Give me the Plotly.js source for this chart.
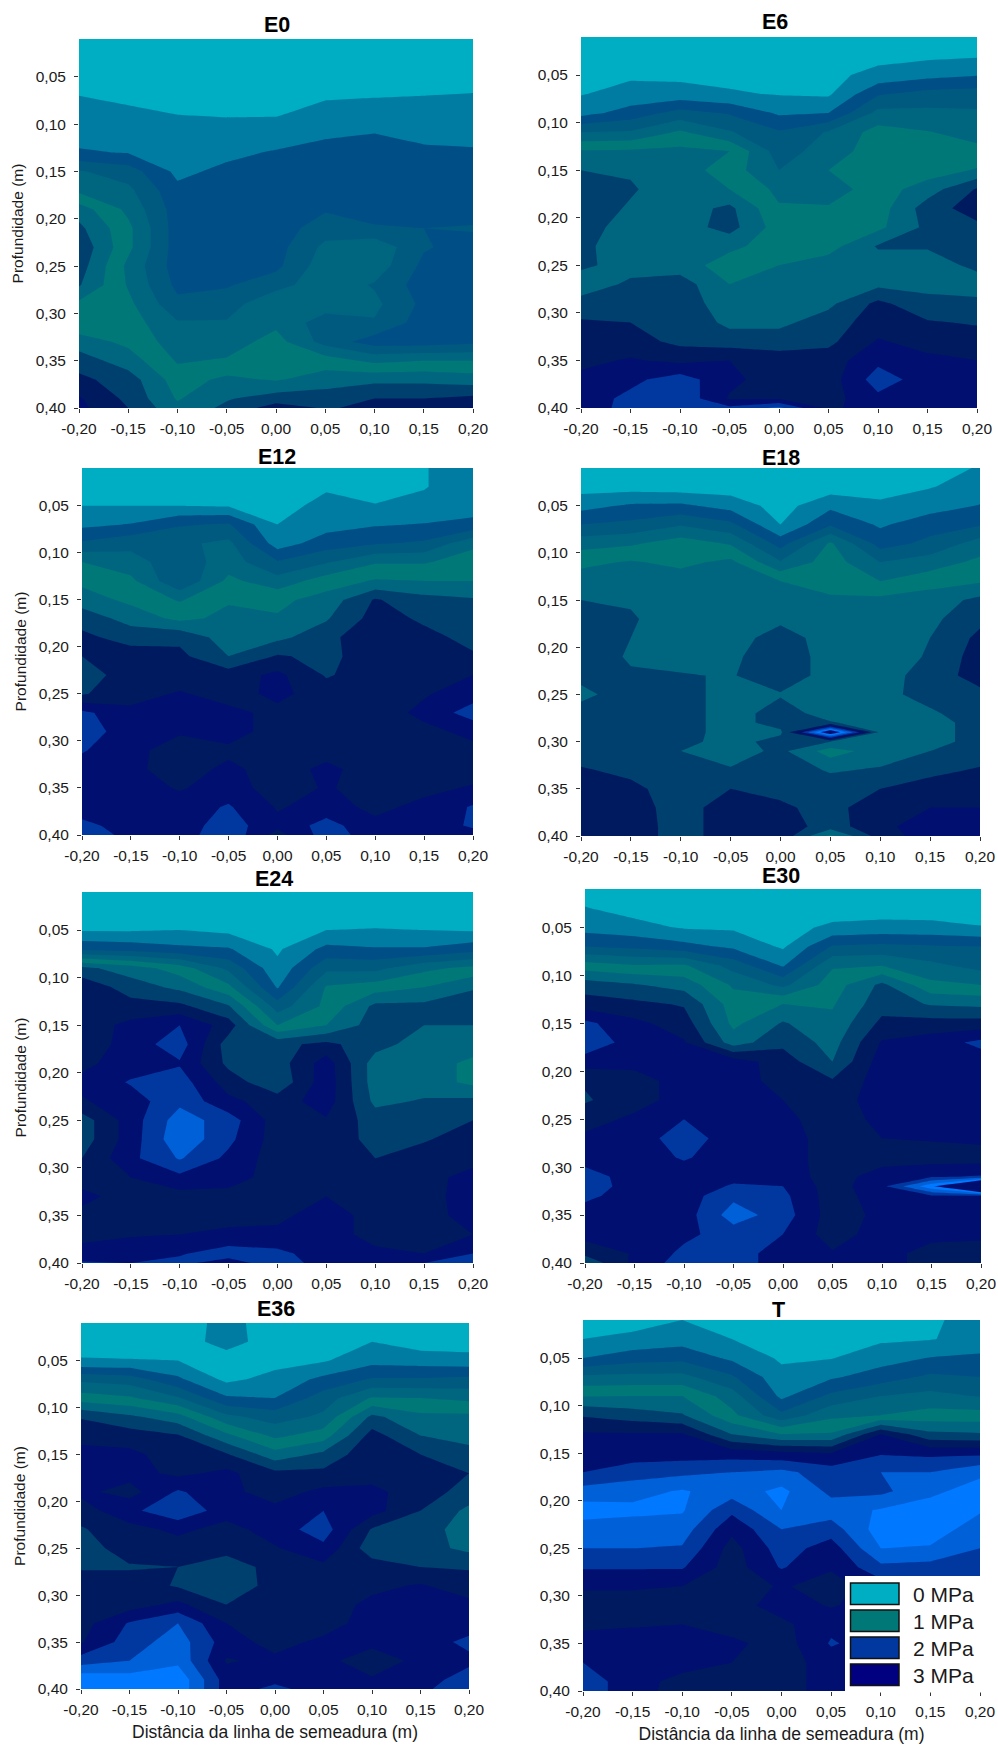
<!DOCTYPE html>
<html><head><meta charset="utf-8">
<script src="https://cdn.plot.ly/plotly-3.0.1.min.js"></script>
<style>html,body{margin:0;padding:0;background:#fff}#c{width:998px;height:1746px}</style>
</head><body><div id="c"></div>
<script>
const distances=[-0.20,-0.15,-0.10,-0.05,0,0.05,0.10,0.15,0.20];
const depths=[0.01,0.03,0.05,0.07,0.09,0.11,0.13,0.15,0.17,0.19,0.21,0.23,0.25,0.27,0.29,0.31,0.33,0.35,0.37,0.39,0.40];
const depthsE18=[0.01,0.03,0.05,0.07,0.09,0.11,0.13,0.15,0.17,0.19,0.21,0.23,0.25,0.27,0.28,0.29,0.30,0.31,0.33,0.35,0.37,0.39,0.40];
const depthsE30=[0.01,0.03,0.05,0.07,0.09,0.11,0.13,0.15,0.17,0.19,0.21,0.23,0.25,0.27,0.29,0.31,0.32,0.33,0.35,0.37,0.39,0.40];
const xTickVals=[-0.20,-0.15,-0.10,-0.05,0,0.05,0.10,0.15,0.20];
const xTickText=['-0,20','-0,15','-0,10','-0,05','0,00','0,05','0,10','0,15','0,20'];
const yTickVals=[0.05,0.10,0.15,0.20,0.25,0.30,0.35,0.40];
const yTickText=['0,05','0,10','0,15','0,20','0,25','0,30','0,35','0,40'];
const bandColors=['#00AEC3','#007CA2','#004E86','#005A80','#006680','#007878','#00667F','#00406F','#001A60','#000F70','#0038A0','#0060D8','#0078FF','#000F70','#000F70','#000F70','#000F70','#000F70','#000F70','#000F70'];
const legendLabels=['0 MPa','1 MPa','2 MPa','3 MPa'];
const legendColors=['#00AEC3','#007878','#0038A0','#000080'];
const panelNames=['E0','E6','E12','E18','E24','E30','E36','T'];

const e0=[
[.02,.02,.02,.02,.02,.02,.02,.02,.02],
[.06,.05,.05,.05,.05,.06,.06,.06,.07],
[.13,.11,.1,.1,.1,.12,.13,.13,.14],
[.2,.17,.15,.15,.15,.18,.19,.2,.21],
[.26,.23,.2,.19,.19,.26,.28,.29,.3],
[.33,.3,.27,.26,.28,.37,.4,.36,.35],
[.42,.39,.31,.35,.42,.47,.47,.43,.42],
[.82,.7,.35,.45,.5,.5,.5,.5,.5],
[.95,.85,.45,.5,.5,.5,.5,.5,.5],
[1.3,.95,.5,.5,.5,.58,.52,.5,.5],
[1.45,1.05,.5,.5,.5,.7,.62,.6,.62],
[1.55,1.05,.5,.5,.52,.85,.95,.62,.52],
[1.5,.95,.5,.52,.55,.92,.92,.55,.45],
[1.42,.98,.55,.58,.72,.93,.78,.5,.6],
[1.15,1.05,.65,.7,.98,.9,.85,.55,.55],
[1.05,1.1,.82,.82,.95,.7,.78,.5,.55],
[1.3,1.15,.9,.9,1.08,.72,.5,.5,.55],
[1.5,1.3,.98,1.02,1.15,1.1,.95,1.0,1.0],
[1.65,1.5,1.1,1.25,1.18,1.3,1.35,1.35,1.3],
[1.82,1.55,1.18,1.38,1.5,1.5,1.6,1.6,1.65],
[1.85,1.6,1.25,1.45,1.7,1.58,1.65,1.65,1.82]];

const e6=[
[.05,.05,.05,.05,.05,.05,.05,.06,.1],
[.1,.1,.1,.1,.1,.1,.14,.16,.18],
[.15,.17,.16,.15,.15,.15,.26,.34,.39],
[.19,.27,.27,.22,.19,.17,.58,.67,.69],
[.33,.48,.68,.58,.37,.4,.86,.85,.83],
[.8,.82,1.03,.82,.62,.82,1.08,1.01,.93],
[1.22,1.23,1.25,1.2,.7,.9,1.1,1.1,1.05],
[1.4,1.38,1.3,1.1,.8,1.0,1.1,1.1,1.22],
[1.5,1.42,1.3,1.2,.95,.9,1.1,1.3,1.62],
[1.5,1.38,1.3,1.45,1.02,1.02,1.1,1.5,1.7],
[1.5,1.3,1.3,1.48,1.1,1.1,1.15,1.45,1.55],
[1.45,1.28,1.3,1.25,1.1,1.12,1.42,1.42,1.42],
[1.45,1.3,1.3,1.1,1.2,1.3,1.3,1.3,1.45],
[1.25,1.45,1.5,1.2,1.3,1.3,1.35,1.35,1.3],
[1.5,1.5,1.5,1.3,1.3,1.35,1.65,1.45,1.45],
[1.62,1.6,1.55,1.35,1.35,1.5,1.7,1.62,1.58],
[1.7,1.68,1.55,1.5,1.5,1.55,1.82,1.72,1.7],
[1.75,1.82,1.75,1.8,1.7,1.7,1.95,1.85,1.8],
[1.85,1.95,2.1,1.85,1.7,1.7,2.1,1.9,1.9],
[1.9,2.05,2.15,1.78,1.78,1.72,1.95,1.9,1.9],
[1.92,2.05,2.15,2.05,2.25,1.75,1.92,1.9,1.92]];

const e12=[
[.05,.05,.05,.05,.05,.05,.05,.19,.3],
[.1,.1,.1,.1,.09,.18,.12,.19,.3],
[.2,.2,.2,.18,.14,.25,.21,.25,.32],
[.35,.41,.58,.62,.2,.32,.38,.41,.45],
[.63,.74,.76,.85,.3,.5,.58,.63,.95],
[1.0,.88,.68,.9,.62,.78,.98,.98,1.1],
[1.15,1.05,.62,1.05,.88,1.1,1.22,1.2,1.2],
[1.3,1.15,.98,1.18,1.15,1.28,1.62,1.47,1.42],
[1.52,1.32,1.15,1.25,1.22,1.38,1.68,1.57,1.5],
[1.65,1.52,1.55,1.3,1.35,1.52,1.8,1.65,1.55],
[1.6,1.7,1.65,1.4,1.62,1.55,1.7,1.7,1.62],
[1.5,1.7,1.7,1.7,1.85,1.58,1.7,1.72,1.8],
[1.58,1.72,1.82,1.72,1.85,1.7,1.7,1.78,1.9],
[2.05,1.85,1.9,1.85,1.75,1.7,1.7,1.85,2.1],
[2.1,1.9,1.82,1.9,1.7,1.7,1.7,1.75,1.85],
[2.02,1.85,1.72,1.75,1.7,1.72,1.7,1.7,1.75],
[1.9,1.85,1.7,1.85,1.7,1.85,1.7,1.7,1.72],
[1.9,1.9,1.78,1.9,1.7,1.82,1.72,1.75,1.82],
[1.9,1.9,1.9,2.02,1.78,1.88,1.75,1.85,2.02],
[2.05,1.92,1.9,2.1,1.85,2.08,1.85,1.92,2.02],
[2.1,1.95,1.9,2.15,1.72,2.1,1.9,1.92,1.95]];

const e18=[
[.05,.05,.05,.05,.05,.05,.05,.1,.22],
[.12,.12,.1,.1,.08,.1,.12,.19,.28],
[.33,.43,.44,.32,.12,.35,.24,.31,.41],
[.6,.65,.78,.65,.2,.58,.37,.52,.58],
[.92,.97,1.1,.98,.52,1.03,.52,.65,.89],
[1.15,1.22,1.15,1.25,.82,1.1,.8,.9,1.05],
[1.3,1.3,1.3,1.3,1.2,1.15,1.0,1.12,1.18],
[1.4,1.38,1.3,1.3,1.3,1.22,1.25,1.3,1.45],
[1.48,1.42,1.3,1.3,1.35,1.3,1.3,1.35,1.55],
[1.52,1.4,1.3,1.3,1.5,1.3,1.3,1.4,1.65],
[1.5,1.38,1.3,1.35,1.55,1.3,1.3,1.42,1.7],
[1.45,1.42,1.42,1.38,1.55,1.3,1.3,1.5,1.68],
[1.35,1.5,1.5,1.3,1.38,1.3,1.3,1.52,1.55],
[1.48,1.52,1.5,1.3,1.5,1.3,1.3,1.35,1.58],
[1.55,1.5,1.5,1.3,1.5,1.42,1.3,1.3,1.5],
[1.5,1.5,1.5,1.3,1.35,2.9,1.35,1.3,1.5],
[1.5,1.5,1.48,1.3,1.5,1.4,1.3,1.3,1.5],
[1.5,1.5,1.4,1.3,1.45,1.1,1.3,1.4,1.5],
[1.62,1.55,1.45,1.42,1.5,1.38,1.42,1.55,1.62],
[1.7,1.65,1.5,1.6,1.52,1.5,1.6,1.68,1.7],
[1.7,1.7,1.5,1.72,1.65,1.5,1.78,1.8,1.8],
[1.72,1.72,1.5,1.72,1.72,1.5,1.75,1.9,1.9],
[1.75,1.72,1.5,1.72,1.75,1.15,1.7,1.9,1.9]];

const e24=[
[.05,.05,.05,.05,.05,.05,.05,.05,.05],
[.1,.1,.1,.12,.1,.1,.11,.1,.1],
[.18,.18,.2,.15,.12,.2,.21,.2,.18],
[.56,.52,.45,.42,.17,.46,.42,.42,.52],
[1.45,1.3,1.1,.75,.25,.75,.74,.95,1.05],
[1.75,1.5,1.35,1.05,.38,1.02,1.1,1.2,1.38],
[1.7,1.68,1.65,1.42,.7,1.05,1.45,1.45,1.5],
[1.7,1.85,2.0,1.7,1.0,1.2,1.5,1.4,1.4],
[1.65,1.9,2.1,1.5,1.55,1.65,1.48,1.3,1.3],
[1.75,1.9,1.98,1.55,1.5,1.9,1.3,1.3,1.15],
[1.85,2.02,2.1,1.7,1.45,1.92,1.3,1.3,1.15],
[1.78,1.9,2.15,1.85,1.7,1.9,1.35,1.42,1.45],
[1.5,1.9,2.3,2.1,1.7,1.78,1.5,1.52,1.6],
[1.5,1.9,2.35,2.05,1.7,1.7,1.55,1.58,1.7],
[1.6,1.95,2.22,1.95,1.7,1.7,1.6,1.7,1.75],
[1.72,1.8,1.95,1.9,1.7,1.7,1.7,1.75,1.85],
[1.85,1.72,1.72,1.72,1.7,1.8,1.72,1.72,1.9],
[1.75,1.7,1.68,1.72,1.75,1.9,1.72,1.7,1.9],
[1.72,1.78,1.8,1.85,1.85,1.9,1.72,1.72,1.8],
[1.9,1.92,1.98,2.1,2.05,1.9,1.85,1.8,2.0],
[2.02,2.0,2.05,1.9,2.12,1.9,1.9,2.0,2.1]];

const e30=[
[.1,.05,.05,.05,.05,.05,.05,.05,.05],
[.21,.12,.1,.1,.08,.1,.1,.1,.1],
[.32,.27,.18,.17,.13,.24,.27,.26,.21],
[.6,.55,.47,.36,.17,.62,.65,.62,.6],
[1.1,1.02,1.03,.72,.38,.98,1.0,.85,.73],
[1.5,1.42,1.32,.97,.75,1.1,1.45,1.05,1.0],
[1.7,1.65,1.58,1.1,1.2,1.18,1.52,1.38,1.35],
[2.05,1.85,1.7,1.15,1.42,1.25,1.65,1.68,1.68],
[2.15,1.9,1.82,1.3,1.55,1.32,1.82,1.9,2.05],
[1.9,1.88,1.9,1.9,1.7,1.4,1.9,1.9,1.9],
[1.62,1.7,1.9,1.9,1.72,1.62,1.9,1.9,1.9],
[1.58,1.7,1.9,1.9,1.8,1.7,1.9,1.9,1.9],
[1.7,1.85,2.0,1.9,1.85,1.7,1.85,1.9,1.9],
[1.85,1.9,2.1,1.9,1.9,1.7,1.8,1.82,1.85],
[1.9,1.9,2.02,1.9,1.9,1.7,1.7,1.7,1.7],
[2.1,1.9,1.9,1.95,1.92,1.7,1.9,1.98,2.02],
[2.1,1.92,1.9,2.02,2.0,1.7,1.95,2.55,3.6],
[2.05,1.9,1.9,2.15,2.05,1.7,1.9,1.98,1.98],
[1.9,1.9,1.9,2.3,2.1,1.7,1.85,1.9,1.9],
[1.88,1.9,1.95,2.1,2.0,1.7,1.9,1.88,1.85],
[1.65,1.82,2.05,2.1,1.9,1.82,1.9,1.7,1.7],
[1.45,1.85,2.1,2.1,1.9,1.9,1.9,1.7,1.7]];

const e36=[
[.05,.05,.05,.3,.05,.05,.05,.05,.05],
[.1,.1,.1,.28,.1,.1,.2,.1,.1],
[.22,.21,.2,.1,.13,.18,.33,.31,.28],
[.75,.7,.44,.15,.27,.45,.62,.62,.65],
[1.1,1.03,.82,.43,.4,.7,1.02,1.0,.95],
[1.58,1.44,1.28,.85,.71,.84,1.45,1.25,1.25],
[1.75,1.7,1.62,1.25,.95,1.1,1.68,1.4,1.3],
[1.85,1.85,1.7,1.62,1.28,1.45,1.75,1.6,1.5],
[1.9,1.88,1.75,1.85,1.65,1.65,1.72,1.62,1.6],
[1.85,1.72,2.03,1.85,1.72,1.85,1.85,1.7,1.52],
[1.7,1.95,2.15,1.9,1.85,2.0,1.88,1.6,1.35],
[1.58,1.72,1.85,1.72,1.9,2.1,1.58,1.5,1.3],
[1.5,1.7,1.7,1.7,1.78,1.95,1.48,1.48,1.35],
[1.58,1.58,1.6,1.45,1.7,1.75,1.7,1.6,1.58],
[1.7,1.7,1.58,1.42,1.7,1.7,1.75,1.82,1.7],
[1.7,1.7,1.85,1.6,1.7,1.7,1.85,1.9,1.85],
[1.72,2.02,2.2,1.8,1.7,1.7,1.9,1.9,1.9],
[1.78,2.1,2.3,1.9,1.72,1.85,1.85,1.9,2.05],
[2.1,2.2,2.35,1.78,1.85,1.85,1.7,1.85,1.95],
[2.55,2.5,2.55,1.9,1.95,1.82,1.82,1.9,2.1],
[2.55,2.55,2.55,1.9,2.05,1.9,1.9,1.95,2.15]];

const t=[
[.1,.12,.2,.1,.05,.05,.05,.18,.25],
[.2,.25,.31,.2,.1,.15,.17,.19,.27],
[.4,.51,.54,.36,.17,.19,.31,.41,.44],
[.84,.86,.86,.63,.26,.37,.5,.64,.6],
[1.19,1.2,1.2,.9,.35,.65,.8,.86,.79],
[1.58,1.5,1.42,1.05,.65,.95,1.0,1.08,1.08],
[1.82,1.82,1.82,1.4,1.2,1.22,1.8,1.45,1.42],
[1.9,1.9,1.9,1.9,1.85,1.8,1.98,1.95,1.95],
[2.0,2.1,2.15,2.2,2.25,2.1,2.2,2.2,2.35],
[2.28,2.33,2.42,2.3,2.45,2.15,2.15,2.35,2.5],
[2.5,2.45,2.42,2.05,2.4,2.3,2.42,2.5,2.42],
[2.3,2.3,2.3,1.85,2.2,2.1,2.5,2.5,2.3],
[2.2,2.2,2.18,1.72,2.1,1.9,2.4,2.38,2.2],
[2.02,2.02,2.02,1.7,2.02,1.82,2.15,2.12,2.12],
[1.82,1.82,1.8,1.7,1.82,1.72,1.9,1.9,1.9],
[1.72,1.72,1.7,1.7,1.9,1.78,1.9,1.9,1.9],
[1.75,1.78,1.8,1.7,1.75,1.95,1.9,1.9,1.9],
[1.9,1.9,1.9,1.85,1.7,2.02,1.9,1.9,1.9],
[2.0,1.9,1.9,1.8,1.7,1.9,1.9,1.9,1.9],
[2.1,1.9,1.72,1.7,1.7,1.9,1.9,1.9,1.9],
[2.1,1.9,1.7,1.7,1.7,1.9,1.9,1.9,1.9]];

const panelZ=[e0,e6,e12,e18,e24,e30,e36,t];
const panelY=[depths,depths,depths,depthsE18,depths,depthsE30,depths,depths];

// pixel boxes of panels [x0,x1,y0,y1], title centre [x,y]
const W=998,H=1746;
const boxes=[[79,473,39,408],[581,977,37,408],[82,473,468,835],[581,980,468,836],[82,473,892,1263],[585,981,889,1263],[81,469,1323,1689],[583,980,1320,1691]];
const titlePos=[[277,25],[775,22],[277,457],[781,458],[274,879],[781,876],[276,1309],[778,1310]];
const FONT='"Liberation Sans", Arial, sans-serif';

// stepped colour scale over the bands
const nBands=bandColors.length, bandSize=0.2;
const colorscale=[];
bandColors.forEach((c,i)=>{colorscale.push([i/nBands,c]);colorscale.push([(i+1)/nBands,c]);});

const data=[],layout={width:W,height:H,margin:{l:0,r:0,t:0,b:0},paper_bgcolor:'#fff',plot_bgcolor:'#fff',showlegend:false,
  font:{family:FONT,size:15,color:'#1a1a1a'},annotations:[],shapes:[]};

panelNames.forEach((name,i)=>{
  const s=i===0?'':String(i+1);
  const b=boxes[i];
  data.push({type:'contour',name:name,x:distances,y:panelY[i],z:panelZ[i],xaxis:'x'+s,yaxis:'y'+s,
    autocontour:false,contours:{start:0,end:bandSize*nBands,size:bandSize,coloring:'fill',showlines:false},
    line:{width:0,smoothing:0},colorscale:colorscale,zmin:0,zmax:bandSize*nBands,showscale:false,hoverinfo:'skip'});
  layout['xaxis'+s]={domain:[b[0]/W,b[1]/W],anchor:'y'+s,range:[-0.20,0.20],tickmode:'array',tickvals:xTickVals,ticktext:xTickText,
    ticks:'outside',ticklen:4,tickwidth:1,tickcolor:'#333',showgrid:false,zeroline:false,showline:false,tickangle:0,ticklabelstandoff:2,
    tickfont:{family:FONT,size:15.5,color:'#1a1a1a'},
    title:i>=6?{text:'Distância da linha de semeadura (m)',font:{family:FONT,size:17.5,color:'#1a1a1a'},standoff:9}:undefined};
  layout['yaxis'+s]={domain:[1-b[3]/H,1-b[2]/H],anchor:'x'+s,range:[0.40,0.01],tickmode:'array',tickvals:yTickVals,ticktext:yTickText,
    ticks:'outside',ticklen:4,tickwidth:1,tickcolor:'#333',showgrid:false,zeroline:false,showline:false,ticklabelstandoff:5,
    tickfont:{family:FONT,size:15.5,color:'#1a1a1a'},
    title:i%2===0?{text:'Profundidade (m)',font:{family:FONT,size:15.5,color:'#1a1a1a'},standoff:8}:undefined};
  layout.annotations.push({xref:'paper',yref:'paper',x:titlePos[i][0]/W,y:1-titlePos[i][1]/H,text:'<b>'+name+'</b>',showarrow:false,
    xanchor:'center',yanchor:'middle',font:{family:FONT,size:21.5,color:'#000'}});
});

// legend box
const pxX=v=>v/W,pxY=v=>1-v/H;
layout.shapes.push({type:'rect',xref:'paper',yref:'paper',x0:pxX(845),x1:pxX(981),y0:pxY(1692.5),y1:pxY(1576),fillcolor:'#fff',line:{width:0},layer:'above'});
legendLabels.forEach((lab,i)=>{
  const top=1583+i*27;
  layout.shapes.push({type:'rect',xref:'paper',yref:'paper',x0:pxX(850.5),x1:pxX(899),y0:pxY(top+21.5),y1:pxY(top),fillcolor:legendColors[i],line:{color:'#111',width:1.5},layer:'above'});
  layout.annotations.push({xref:'paper',yref:'paper',x:pxX(911),y:pxY(top+11),text:lab,showarrow:false,xanchor:'left',yanchor:'middle',font:{family:FONT,size:21,color:'#1a1a1a'}});
});

Plotly.newPlot('c',data,layout,{displayModeBar:false,staticPlot:true});
</script></body></html>
